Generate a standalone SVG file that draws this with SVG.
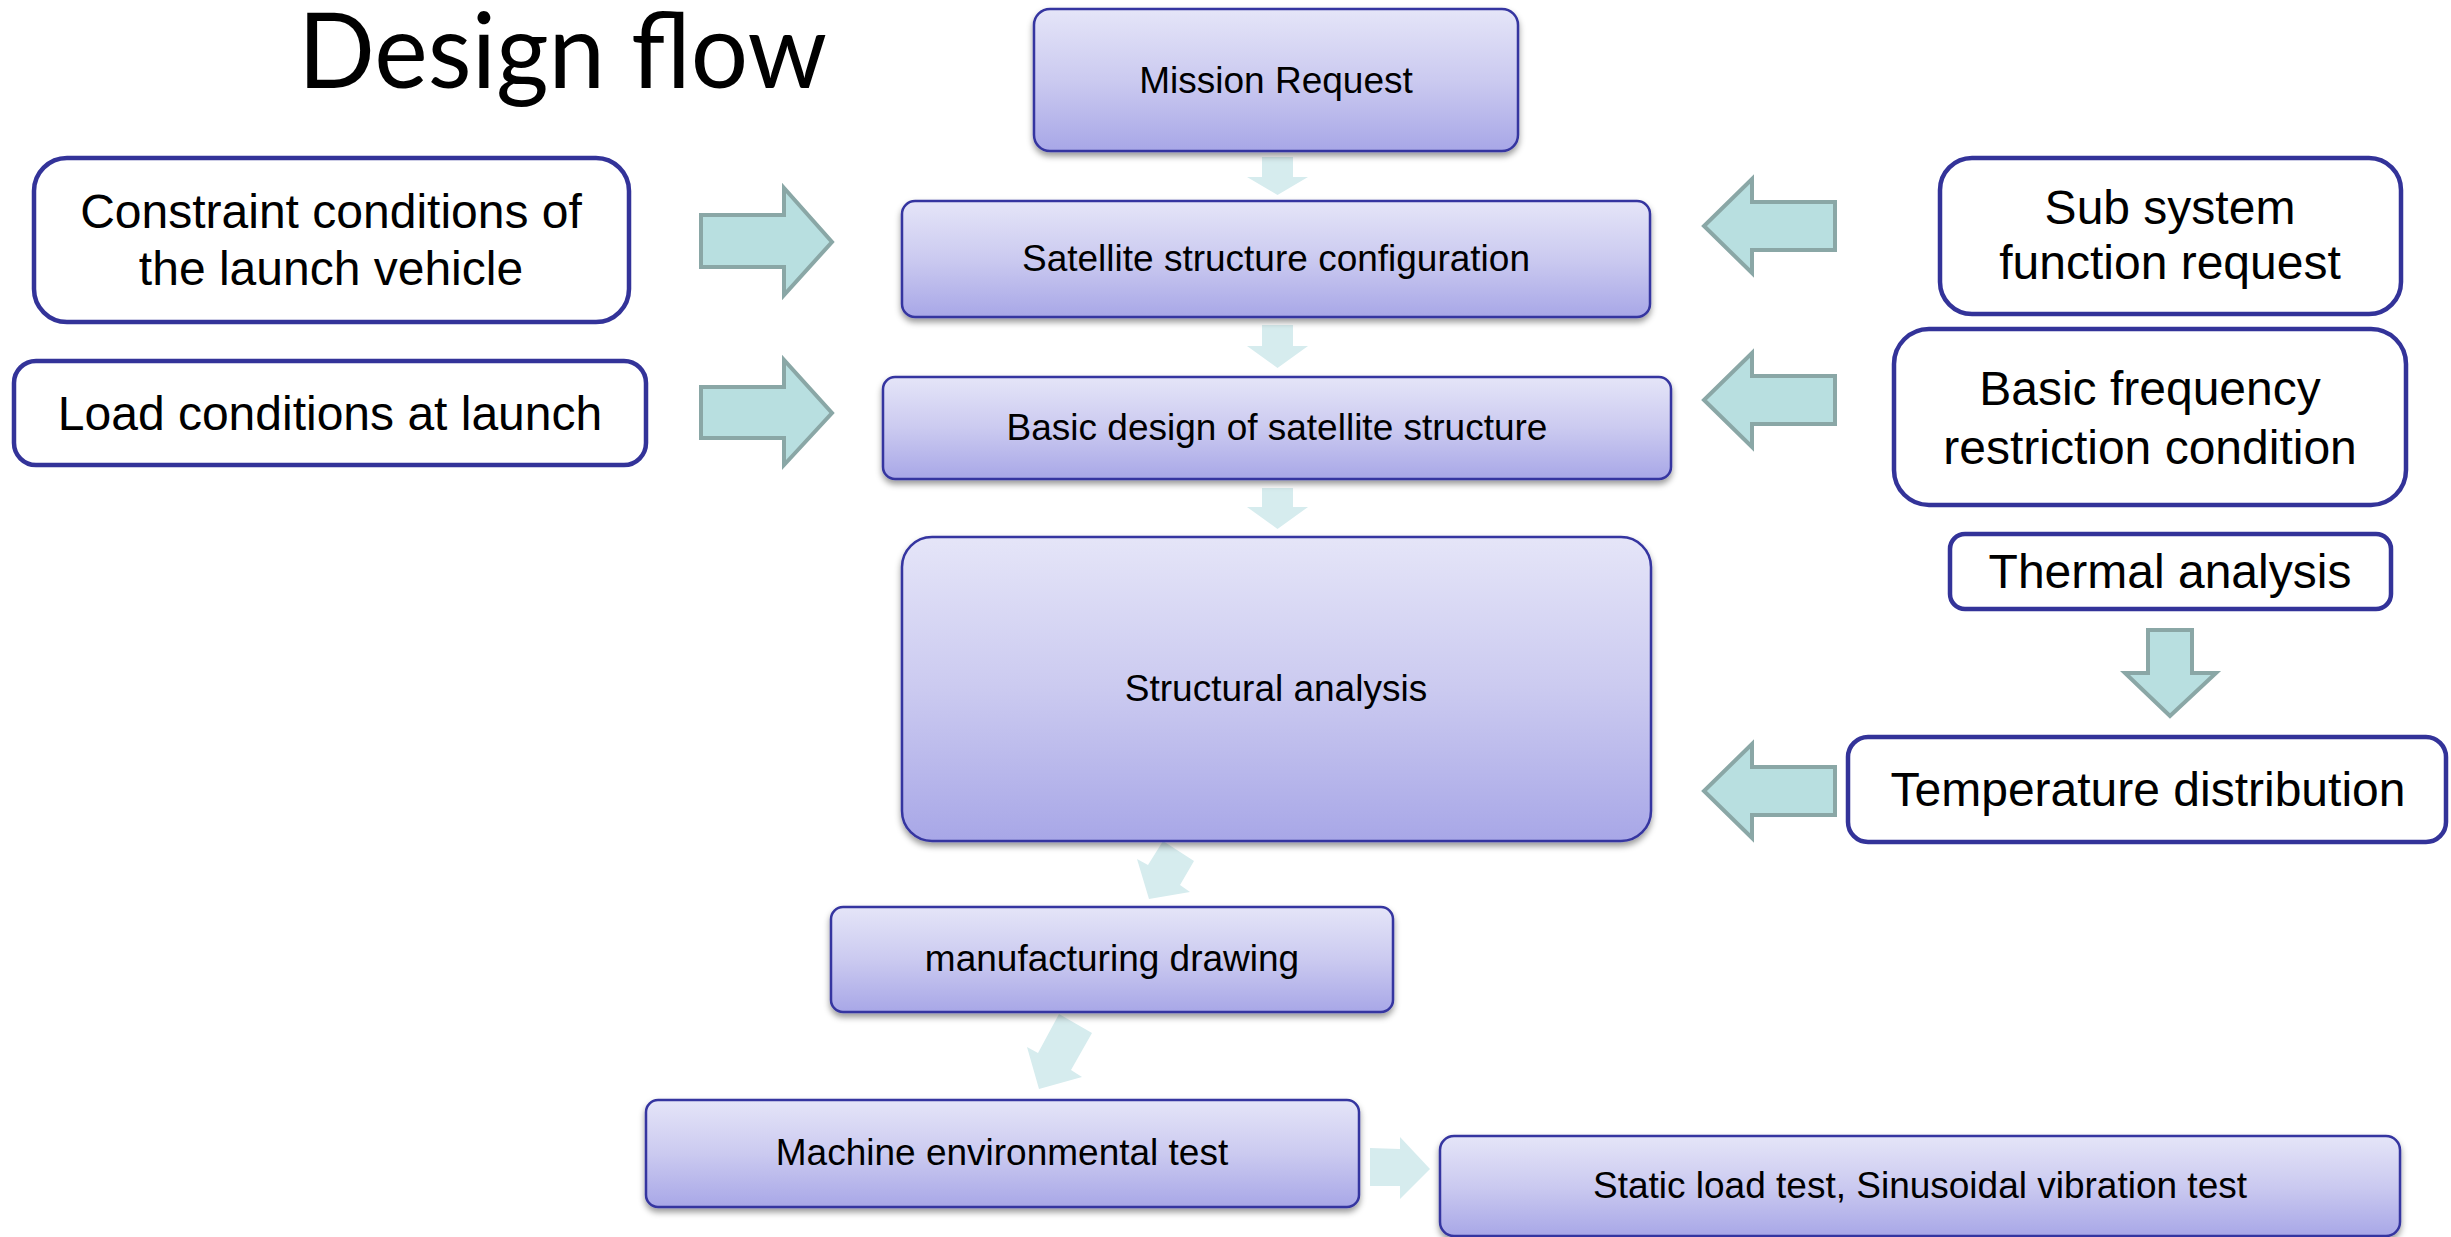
<svg xmlns="http://www.w3.org/2000/svg" width="2451" height="1237" viewBox="0 0 2451 1237">
<defs>
<linearGradient id="lav" x1="0" y1="0" x2="0" y2="1">
<stop offset="0" stop-color="#e5e5f8"/>
<stop offset="0.5" stop-color="#cbcaf0"/>
<stop offset="1" stop-color="#a8a7e7"/>
</linearGradient>
<filter id="sh" x="-5%" y="-10%" width="110%" height="130%">
<feDropShadow dx="0" dy="4" stdDeviation="3" flood-color="#000" flood-opacity="0.4"/>
</filter>
<style>
.step{fill:url(#lav);stroke:#3434a0;stroke-width:2.5;filter:url(#sh)}
.inp{fill:#fff;stroke:#333399;stroke-width:4.5}
.st{font-family:"Liberation Sans",Arial,sans-serif;font-size:37px;fill:#000;text-anchor:middle}
.it{font-family:"Liberation Sans",Arial,sans-serif;font-size:48px;fill:#000;text-anchor:middle}
.flow{fill:#d6ecee;stroke:none}
.blk{fill:#b8dfe0;stroke:#8aa7a6;stroke-width:4;stroke-linejoin:miter}
</style>
</defs>
<rect width="2451" height="1237" fill="#fff"/>
<text x="298" y="88" font-family="Lato,'Open Sans',sans-serif" font-size="105" textLength="529" lengthAdjust="spacingAndGlyphs" fill="#000">Design flow</text>
<g id="connectors">
<polygon class="flow" points="1262,157 1293,157 1293,177 1308,177 1277.5,195 1247,177 1262,177"/>
<polygon class="flow" points="1262,325 1293,325 1293,346 1308,346 1277.5,368 1247,346 1262,346"/>
<polygon class="flow" points="1262,488 1293,488 1293,507 1308,507 1277.5,529 1247,507 1262,507"/>
<polygon class="flow" points="1163,841 1194,861 1180,885 1190,892 1149,899 1137,859 1148,865"/>
<polygon class="flow" points="1059,1014 1092,1033 1071,1070 1082,1077 1039,1089 1027,1047 1038,1053"/>
<polygon class="flow" points="1370,1148 1400,1149 1400,1137 1430,1169 1400,1199 1400,1186 1370,1186"/>
<polygon class="blk" points="701,215 784,215 784,188 832,242 784,295 784,267 701,267"/>
<polygon class="blk" points="701,387 784,387 784,360 832,413 784,465 784,438 701,438"/>
<polygon class="blk" points="1835,202 1752,202 1752,179 1704,226 1752,273 1752,250 1835,250"/>
<polygon class="blk" points="1835,376 1752,376 1752,353 1704,400 1752,447 1752,424 1835,424"/>
<polygon class="blk" points="1835,767 1752,767 1752,744 1704,791 1752,838 1752,815 1835,815"/>
<polygon class="blk" points="2148,630 2192,630 2192,673 2216,673 2170,716 2125,673 2148,673"/>
</g>
<g id="mission"><rect class="step" x="1034" y="9" width="484" height="142" rx="16"/><text class="st" x="1276" y="93">Mission Request</text></g>
<g id="config"><rect class="step" x="902" y="201" width="748" height="116" rx="13"/><text class="st" x="1276" y="271">Satellite structure configuration</text></g>
<g id="basic-design"><rect class="step" x="883" y="377" width="788" height="102" rx="12"/><text class="st" x="1277" y="440">Basic design of satellite structure</text></g>
<g id="structural"><rect class="step" x="902" y="537" width="749" height="304" rx="30"/><text class="st" x="1276" y="701">Structural analysis</text></g>
<g id="manufacturing"><rect class="step" x="831" y="907" width="562" height="105" rx="12"/><text class="st" x="1112" y="971">manufacturing drawing</text></g>
<g id="machine"><rect class="step" x="646" y="1100" width="713" height="107" rx="12"/><text class="st" x="1002" y="1165">Machine environmental test</text></g>
<g id="static"><rect class="step" x="1440" y="1136" width="960" height="100" rx="14"/><text class="st" x="1920" y="1198">Static load test, Sinusoidal vibration test</text></g>
<g id="constraint"><rect class="inp" x="34" y="158" width="595" height="164" rx="33"/><text class="it" x="331" y="228">Constraint conditions of</text><text class="it" x="331" y="285">the launch vehicle</text></g>
<g id="load"><rect class="inp" x="14" y="361" width="632" height="104" rx="22"/><text class="it" x="330" y="430">Load conditions at launch</text></g>
<g id="subsystem"><rect class="inp" x="1940" y="158" width="461" height="156" rx="32"/><text class="it" x="2170" y="224">Sub system</text><text class="it" x="2170" y="279">function request</text></g>
<g id="frequency"><rect class="inp" x="1894" y="329" width="512" height="176" rx="35"/><text class="it" x="2150" y="405">Basic frequency</text><text class="it" x="2150" y="464">restriction condition</text></g>
<g id="thermal"><rect class="inp" x="1950" y="534" width="441" height="75" rx="15"/><text class="it" x="2170" y="588">Thermal analysis</text></g>
<g id="temperature"><rect class="inp" x="1848" y="737" width="598" height="105" rx="20"/><text class="it" x="2148" y="806">Temperature distribution</text></g>
</svg>
